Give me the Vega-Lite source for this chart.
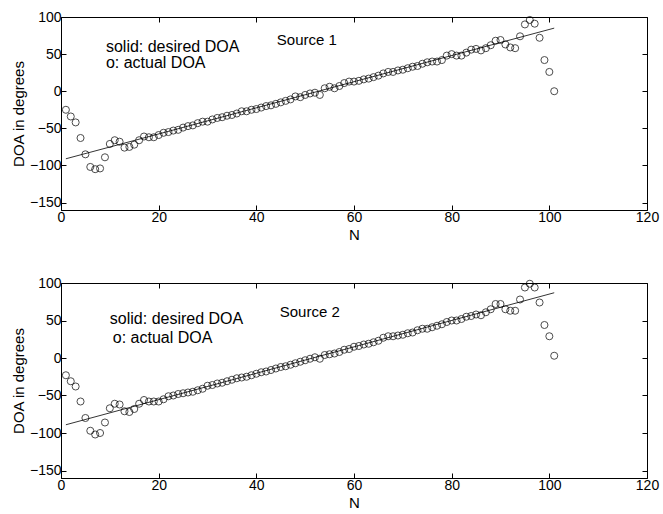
{
  "$schema": "https://vega.github.io/schema/vega-lite/v6.json",
  "background": "white",
  "padding": {"left": 10, "top": 9, "right": 5, "bottom": 5},
  "bounds": "flush",
  "spacing": 73,
  "datasets": {
    "s1": [
      {"N":1,"a":-25},{"N":2,"a":-34},{"N":3,"a":-42},{"N":4,"a":-63},{"N":5,"a":-85},{"N":6,"a":-102},{"N":7,"a":-105},{"N":8,"a":-104},{"N":9,"a":-89},{"N":10,"a":-71},
      {"N":11,"a":-66},{"N":12,"a":-68},{"N":13,"a":-76},{"N":14,"a":-75},{"N":15,"a":-72},{"N":16,"a":-66},{"N":17,"a":-61},{"N":18,"a":-62},{"N":19,"a":-62},{"N":20,"a":-59},
      {"N":21,"a":-56},{"N":22,"a":-55},{"N":23,"a":-53},{"N":24,"a":-52},{"N":25,"a":-49},{"N":26,"a":-47},{"N":27,"a":-46},{"N":28,"a":-43},{"N":29,"a":-41},{"N":30,"a":-41},
      {"N":31,"a":-38},{"N":32,"a":-36},{"N":33,"a":-35},{"N":34,"a":-33},{"N":35,"a":-32},{"N":36,"a":-30},{"N":37,"a":-27},{"N":38,"a":-27},{"N":39,"a":-25},{"N":40,"a":-24},
      {"N":41,"a":-22},{"N":42,"a":-20},{"N":43,"a":-19},{"N":44,"a":-17},{"N":45,"a":-15},{"N":46,"a":-13},{"N":47,"a":-11},{"N":48,"a":-7},{"N":49,"a":-8},{"N":50,"a":-5},
      {"N":51,"a":-3},{"N":52,"a":-2},{"N":53,"a":-5},{"N":54,"a":4},{"N":55,"a":6},{"N":56,"a":4},{"N":57,"a":7},{"N":58,"a":11},{"N":59,"a":13},{"N":60,"a":13},
      {"N":61,"a":14},{"N":62,"a":16},{"N":63,"a":17},{"N":64,"a":19},{"N":65,"a":21},{"N":66,"a":24},{"N":67,"a":26},{"N":68,"a":26},{"N":69,"a":28},{"N":70,"a":29},
      {"N":71,"a":31},{"N":72,"a":33},{"N":73,"a":34},{"N":74,"a":37},{"N":75,"a":39},{"N":76,"a":40},{"N":77,"a":40},{"N":78,"a":42},{"N":79,"a":48},{"N":80,"a":50},
      {"N":81,"a":48},{"N":82,"a":48},{"N":83,"a":52},{"N":84,"a":56},{"N":85,"a":57},{"N":86,"a":55},{"N":87,"a":58},{"N":88,"a":62},{"N":89,"a":68},{"N":90,"a":69},
      {"N":91,"a":63},{"N":92,"a":59},{"N":93,"a":58},{"N":94,"a":74},{"N":95,"a":90},{"N":96,"a":96},{"N":97,"a":91},{"N":98,"a":72},{"N":99,"a":42},{"N":100,"a":26},
      {"N":101,"a":0}
    ],
    "s2": [
      {"N":1,"a":-23},{"N":2,"a":-31},{"N":3,"a":-38},{"N":4,"a":-58},{"N":5,"a":-80},{"N":6,"a":-97},{"N":7,"a":-102},{"N":8,"a":-100},{"N":9,"a":-86},{"N":10,"a":-67},
      {"N":11,"a":-61},{"N":12,"a":-62},{"N":13,"a":-71},{"N":14,"a":-72},{"N":15,"a":-68},{"N":16,"a":-61},{"N":17,"a":-56},{"N":18,"a":-58},{"N":19,"a":-58},{"N":20,"a":-58},
      {"N":21,"a":-55},{"N":22,"a":-51},{"N":23,"a":-50},{"N":24,"a":-48},{"N":25,"a":-47},{"N":26,"a":-46},{"N":27,"a":-45},{"N":28,"a":-43},{"N":29,"a":-41},{"N":30,"a":-37},
      {"N":31,"a":-36},{"N":32,"a":-34},{"N":33,"a":-33},{"N":34,"a":-31},{"N":35,"a":-29},{"N":36,"a":-27},{"N":37,"a":-26},{"N":38,"a":-25},{"N":39,"a":-23},{"N":40,"a":-21},
      {"N":41,"a":-19},{"N":42,"a":-18},{"N":43,"a":-16},{"N":44,"a":-14},{"N":45,"a":-12},{"N":46,"a":-11},{"N":47,"a":-9},{"N":48,"a":-7},{"N":49,"a":-5},{"N":50,"a":-3},
      {"N":51,"a":-1},{"N":52,"a":1},{"N":53,"a":-1},{"N":54,"a":4},{"N":55,"a":5},{"N":56,"a":6},{"N":57,"a":8},{"N":58,"a":11},{"N":59,"a":12},{"N":60,"a":15},
      {"N":61,"a":16},{"N":62,"a":18},{"N":63,"a":19},{"N":64,"a":21},{"N":65,"a":23},{"N":66,"a":27},{"N":67,"a":29},{"N":68,"a":29},{"N":69,"a":30},{"N":70,"a":31},
      {"N":71,"a":33},{"N":72,"a":34},{"N":73,"a":37},{"N":74,"a":39},{"N":75,"a":39},{"N":76,"a":41},{"N":77,"a":43},{"N":78,"a":45},{"N":79,"a":48},{"N":80,"a":50},
      {"N":81,"a":50},{"N":82,"a":52},{"N":83,"a":55},{"N":84,"a":56},{"N":85,"a":58},{"N":86,"a":57},{"N":87,"a":61},{"N":88,"a":65},{"N":89,"a":72},{"N":90,"a":72},
      {"N":91,"a":65},{"N":92,"a":63},{"N":93,"a":63},{"N":94,"a":78},{"N":95,"a":94},{"N":96,"a":99},{"N":97,"a":94},{"N":98,"a":74},{"N":99,"a":44},{"N":100,"a":29},
      {"N":101,"a":3}
    ],
    "l1": [{"N":1,"d":-91},{"N":101,"d":85}],
    "l2": [{"N":1,"d":-89},{"N":101,"d":87}]
  },
  "vconcat": [
    {
      "width": 586,
      "height": 193,
      "resolve": {"axis": {"x": "independent", "y": "independent"}},
      "layer": [
        {
          "data": {"name": "l1"},
          "mark": {"type": "line", "color": "black", "strokeWidth": 0.8},
          "encoding": {
            "x": {"field": "N", "type": "quantitative", "scale": {"domain": [0, 120]}, "axis": {"orient": "bottom", "title": "N", "values": [0,20,40,60,80,100,120]}},
            "y": {"field": "d", "type": "quantitative", "scale": {"domain": [-150, 100]}, "axis": {"orient": "left", "title": "DOA in degrees", "values": [-150,-100,-50,0,50,100]}}
          }
        },
        {
          "data": {"name": "s1"},
          "mark": {"type": "point", "shape": "circle", "filled": false, "color": "black", "size": 50, "strokeWidth": 1},
          "encoding": {
            "x": {"field": "N", "type": "quantitative", "axis": {"orient": "top", "labels": false, "title": null, "domain": false, "values": [0,20,40,60,80,100,120]}},
            "y": {"field": "a", "type": "quantitative", "axis": {"orient": "right", "labels": false, "title": null, "domain": false, "values": [-150,-100,-50,0,50,100]}}
          }
        },
        {
          "data": {"values": [{}]},
          "mark": {"type": "text", "align": "left", "baseline": "middle", "fontSize": 16, "font": "Liberation Sans", "color": "black"},
          "encoding": {"x": {"datum": 9.2, "axis": null}, "y": {"datum": 60, "axis": null}, "text": {"value": "solid: desired DOA"}}
        },
        {
          "data": {"values": [{}]},
          "mark": {"type": "text", "align": "left", "baseline": "middle", "fontSize": 16, "font": "Liberation Sans", "color": "black"},
          "encoding": {"x": {"datum": 9.2, "axis": null}, "y": {"datum": 38, "axis": null}, "text": {"value": "o: actual DOA"}}
        },
        {
          "data": {"values": [{}]},
          "mark": {"type": "text", "align": "left", "baseline": "middle", "fontSize": 15, "font": "Liberation Sans", "color": "black"},
          "encoding": {"x": {"datum": 44.2, "axis": null}, "y": {"datum": 69, "axis": null}, "text": {"value": "Source 1"}}
        }
      ]
    },
    {
      "width": 586,
      "height": 195,
      "resolve": {"axis": {"x": "independent", "y": "independent"}},
      "layer": [
        {
          "data": {"name": "l2"},
          "mark": {"type": "line", "color": "black", "strokeWidth": 0.8},
          "encoding": {
            "x": {"field": "N", "type": "quantitative", "scale": {"domain": [0, 120]}, "axis": {"orient": "bottom", "title": "N", "values": [0,20,40,60,80,100,120]}},
            "y": {"field": "d", "type": "quantitative", "scale": {"domain": [-150, 100]}, "axis": {"orient": "left", "title": "DOA in degrees", "values": [-150,-100,-50,0,50,100]}}
          }
        },
        {
          "data": {"name": "s2"},
          "mark": {"type": "point", "shape": "circle", "filled": false, "color": "black", "size": 50, "strokeWidth": 1},
          "encoding": {
            "x": {"field": "N", "type": "quantitative", "axis": {"orient": "top", "labels": false, "title": null, "domain": false, "values": [0,20,40,60,80,100,120]}},
            "y": {"field": "a", "type": "quantitative", "axis": {"orient": "right", "labels": false, "title": null, "domain": false, "values": [-150,-100,-50,0,50,100]}}
          }
        },
        {
          "data": {"values": [{}]},
          "mark": {"type": "text", "align": "left", "baseline": "middle", "fontSize": 16, "font": "Liberation Sans", "color": "black"},
          "encoding": {"x": {"datum": 10, "axis": null}, "y": {"datum": 52, "axis": null}, "text": {"value": "solid: desired DOA"}}
        },
        {
          "data": {"values": [{}]},
          "mark": {"type": "text", "align": "left", "baseline": "middle", "fontSize": 16, "font": "Liberation Sans", "color": "black"},
          "encoding": {"x": {"datum": 10.6, "axis": null}, "y": {"datum": 26.5, "axis": null}, "text": {"value": "o: actual DOA"}}
        },
        {
          "data": {"values": [{}]},
          "mark": {"type": "text", "align": "left", "baseline": "middle", "fontSize": 15, "font": "Liberation Sans", "color": "black"},
          "encoding": {"x": {"datum": 44.8, "axis": null}, "y": {"datum": 61, "axis": null}, "text": {"value": "Source 2"}}
        }
      ]
    }
  ],
  "config": {
    "view": {"stroke": "black", "strokeWidth": 1},
    "axis": {
      "grid": false,
      "domainColor": "black",
      "tickColor": "black",
      "labelColor": "black",
      "titleColor": "black",
      "labelFont": "Liberation Sans",
      "titleFont": "Liberation Sans",
      "labelFontSize": 14,
      "titleFontSize": 15,
      "titleFontWeight": "normal",
      "tickSize": -5,
      "labelPadding": 5,
      "titlePadding": 3,
      "labelFlush": false,
      "labelOverlap": false
    }
  }
}
